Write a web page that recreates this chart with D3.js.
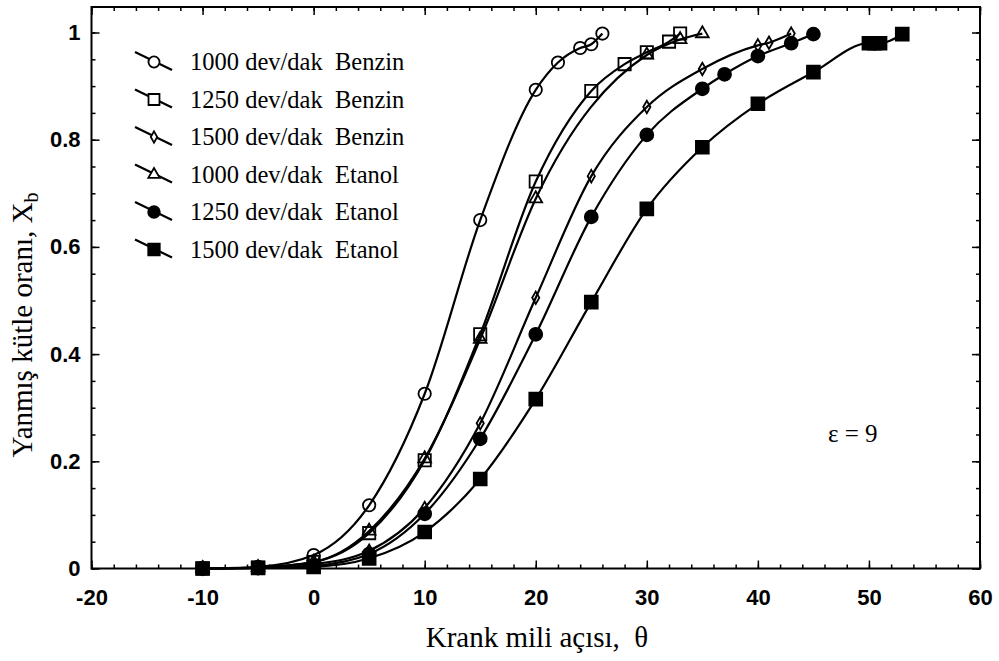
<!DOCTYPE html>
<html>
<head>
<meta charset="utf-8">
<script src="https://cdn.jsdelivr.net/npm/d3@7/dist/d3.min.js"></script>
<style>
  html, body { margin: 0; padding: 0; background: #fff; }
  svg { display: block; }
  .serif { font-family: "Liberation Serif", "Times New Roman", serif; }
  .tick text { font-family: "Liberation Sans", Arial, sans-serif; font-weight: bold; font-size: 22px; fill: #000; }
</style>
</head>
<body>
<svg id="chart" width="999" height="661"></svg>
<script>
// Crank angle (deg) and burned mass fraction for each engine speed / fuel
const theta_b1000 = [-10, -5, 0, 5, 10, 15, 20, 22, 24, 25, 26];
const xb_b1000    = [0, 0.003, 0.025, 0.118, 0.326, 0.65, 0.893, 0.944, 0.971, 0.978, 0.998];

const theta_b1250 = [-10, -5, 0, 5, 10, 15, 20, 25, 28, 30, 32, 33];
const xb_b1250    = [0, 0.002, 0.012, 0.066, 0.202, 0.437, 0.722, 0.891, 0.941, 0.963, 0.983, 0.998];

const theta_b1500 = [-10, -5, 0, 5, 10, 15, 20, 25, 30, 35, 40, 41, 43];
const xb_b1500    = [0, 0.001, 0.008, 0.033, 0.113, 0.271, 0.505, 0.732, 0.861, 0.932, 0.976, 0.981, 0.998];

const theta_e1000 = [-10, -5, 0, 5, 10, 15, 20, 30, 33, 35];
const xb_e1000    = [0, 0.002, 0.012, 0.07, 0.205, 0.428, 0.69, 0.958, 0.987, 0.998];

const theta_e1250 = [-10, -5, 0, 5, 10, 15, 20, 25, 30, 35, 37, 40, 43, 45];
const xb_e1250    = [0, 0.001, 0.005, 0.027, 0.102, 0.242, 0.437, 0.656, 0.809, 0.895, 0.922, 0.956, 0.98, 0.997];

const theta_e1500 = [-10, -5, 0, 5, 10, 15, 20, 25, 30, 35, 40, 45, 50, 50.5, 51, 53];
const xb_e1500    = [0, 0.001, 0.003, 0.019, 0.068, 0.167, 0.316, 0.497, 0.671, 0.786, 0.867, 0.926, 0.98, 0.98, 0.98, 0.997];

const seriesNames = [
  "1000 dev/dak  Benzin",
  "1250 dev/dak  Benzin",
  "1500 dev/dak  Benzin",
  "1000 dev/dak  Etanol",
  "1250 dev/dak  Etanol",
  "1500 dev/dak  Etanol"
];
const xTickLabels = [-20, -10, 0, 10, 20, 30, 40, 50, 60];
const yTickLabels = [0, 0.2, 0.4, 0.6, 0.8, 1];

const series = [
  { name: seriesNames[0], th: theta_b1000, xb: xb_b1000, marker: "circle",  filled: false },
  { name: seriesNames[1], th: theta_b1250, xb: xb_b1250, marker: "square",  filled: false },
  { name: seriesNames[2], th: theta_b1500, xb: xb_b1500, marker: "diamond", filled: false },
  { name: seriesNames[3], th: theta_e1000, xb: xb_e1000, marker: "triangle",filled: false },
  { name: seriesNames[4], th: theta_e1250, xb: xb_e1250, marker: "circle",  filled: true },
  { name: seriesNames[5], th: theta_e1500, xb: xb_e1500, marker: "square",  filled: true }
];

const svg = d3.select("#chart");
const plotLeft = 91.5, plotRight = 980, plotTop = 7, plotBottom = 568.5;

const x = d3.scaleLinear().domain([-20, 60]).range([plotLeft, plotRight]);
const y = d3.scaleLinear().domain([0, 1]).range([plotBottom, 32.5]);

// marker shapes
const shapes = {
  circle:   { type: d3.symbolCircle,   size: 120 },
  square:   { type: d3.symbolSquare,   size: 150 },
  diamond:  { type: d3.symbolDiamond,  size: 45 },
  triangle: { type: d3.symbolTriangle, size: 70 }
};
function markerPath(s, scale = 1) {
  const sh = shapes[s.marker];
  return d3.symbol().type(sh.type).size((s.filled ? sh.size * 1.1 : sh.size) * scale)();
}

// frame
svg.append("rect")
  .attr("x", plotLeft).attr("y", plotTop)
  .attr("width", plotRight - plotLeft).attr("height", plotBottom - plotTop)
  .attr("fill", "none").attr("stroke", "#000").attr("stroke-width", 2);

// ticks: majors labelled, minors every 2 deg / 0.05
const xMinor = d3.range(-20, 61, 2);
const yMinor = d3.range(0, 1.0001, 0.05);

function styleAxis(g) {
  g.select(".domain").remove();
  g.selectAll(".tick line").attr("stroke", "#000").attr("stroke-width", 1.5);
}

svg.append("g").attr("transform", `translate(0,${plotBottom})`)
  .call(d3.axisBottom(x).tickValues(xMinor).tickSize(-4).tickFormat(""))
  .call(styleAxis);
svg.append("g").attr("transform", `translate(0,${plotBottom})`)
  .call(d3.axisBottom(x).tickValues(xTickLabels).tickSize(-8).tickPadding(21).tickFormat(d => String(d)))
  .call(styleAxis);
svg.append("g").attr("transform", `translate(0,${plotTop})`)
  .call(d3.axisTop(x).tickValues(xMinor).tickSize(-4).tickFormat(""))
  .call(styleAxis);
svg.append("g").attr("transform", `translate(0,${plotTop})`)
  .call(d3.axisTop(x).tickValues(xTickLabels).tickSize(-8).tickFormat(""))
  .call(styleAxis);

svg.append("g").attr("transform", `translate(${plotLeft},0)`)
  .call(d3.axisLeft(y).tickValues(yMinor).tickSize(-4).tickFormat(""))
  .call(styleAxis);
svg.append("g").attr("transform", `translate(${plotLeft},0)`)
  .call(d3.axisLeft(y).tickValues(yTickLabels).tickSize(-8).tickPadding(11).tickFormat(d => d === 0 || d === 1 ? String(d) : d3.format(".1f")(d)))
  .call(styleAxis);
svg.append("g").attr("transform", `translate(${plotRight},0)`)
  .call(d3.axisRight(y).tickValues(yMinor).tickSize(-4).tickFormat(""))
  .call(styleAxis);
svg.append("g").attr("transform", `translate(${plotRight},0)`)
  .call(d3.axisRight(y).tickValues(yTickLabels).tickSize(-8).tickFormat(""))
  .call(styleAxis);

// curves
const line = d3.line()
  .x(d => x(d[0])).y(d => y(d[1]))
  .curve(d3.curveMonotoneX);

const plot = svg.append("g");
series.forEach(s => {
  const pts = s.th.map((t, i) => [t, s.xb[i]]);
  plot.append("path")
    .datum(pts)
    .attr("d", line)
    .attr("fill", "none")
    .attr("stroke", "#000")
    .attr("stroke-width", 2.2);
  plot.selectAll(null)
    .data(pts)
    .enter().append("path")
    .attr("transform", d => `translate(${x(d[0])},${y(d[1])})`)
    .attr("d", markerPath(s))
    .attr("fill", s.filled ? "#000" : "none")
    .attr("stroke", "#000")
    .attr("stroke-width", 1.8);
});

// legend
const legend = svg.append("g");
series.forEach((s, i) => {
  const ly = 62 + i * 37.5;
  legend.append("line")
    .attr("x1", 135).attr("y1", ly - 10)
    .attr("x2", 172).attr("y2", ly + 8)
    .attr("stroke", "#000").attr("stroke-width", 2.2);
  legend.append("path")
    .attr("transform", `translate(154,${ly})`)
    .attr("d", markerPath(s, 0.8))
    .attr("fill", s.filled ? "#000" : "#fff")
    .attr("stroke", "#000")
    .attr("stroke-width", 1.8);
  legend.append("text")
    .attr("class", "serif")
    .attr("x", 190).attr("y", ly + 8)
    .attr("font-size", 24.5)
    .style("white-space", "pre")
    .text(s.name);
});

// compression ratio note
svg.append("text")
  .attr("class", "serif")
  .attr("x", 828).attr("y", 442)
  .attr("font-size", 25)
  .text("ε = 9");

// axis titles
svg.append("text")
  .attr("class", "serif")
  .attr("x", 537).attr("y", 647)
  .attr("text-anchor", "middle")
  .attr("font-size", 29)
  .style("white-space", "pre")
  .text("Krank mili açısı,  θ");

const yt = svg.append("text")
  .attr("class", "serif")
  .attr("transform", "translate(32,325) rotate(-90)")
  .attr("text-anchor", "middle")
  .attr("font-size", 29);
yt.append("tspan").text("Yanmış kütle oranı, X");
yt.append("tspan").attr("font-size", 20).attr("dy", 6).text("b");
</script>
</body>
</html>
